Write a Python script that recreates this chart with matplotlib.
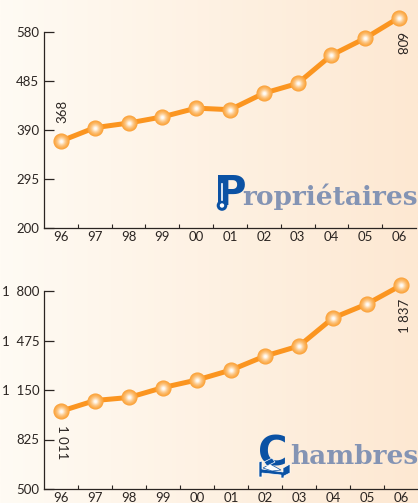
import numpy as np
import matplotlib
matplotlib.use('Agg')
import matplotlib.pyplot as plt
from matplotlib.patches import Circle, Polygon

W, H = 418, 503

years = ['96', '97', '98', '99', '00', '01', '02', '03', '04', '05', '06']
proprietaires = [368, 394, 403, 415, 432, 429, 461, 480, 535, 568, 608]
chambres = [1011, 1081, 1101, 1166, 1216, 1281, 1373, 1439, 1623, 1715, 1837]
ticks_top = [200, 295, 390, 485, 580]
ticks_top_labels = ['200', '295', '390', '485', '580']
ticks_bot = [500, 825, 1150, 1475, 1800]
ticks_bot_labels = ['500', '825', '1  150', '1  475', '1  800']

plt.rcParams['font.family'] = ['Lato', 'DejaVu Sans']
INK = '#2b2522'
LINE = '#fb9520'
BLUE = '#0b52a4'
GREY = '#8494b4'


def px(x, y):
    # pixel position of the reference -> figure fraction
    return x / W, 1 - y / H


fig = plt.figure(figsize=(W / 100, H / 100), dpi=100)

# background gradient
bg = fig.add_axes([0, 0, 1, 1], zorder=0)
grad = np.linspace(0, 1, 256).reshape(1, -1, 1)
c0 = np.array([255, 251, 244]) / 255
c1 = np.array([253, 232, 210]) / 255
bg.imshow(c0 + (c1 - c0) * grad, aspect='auto', extent=[0, W, H, 0])
bg.set_xlim(0, W)
bg.set_ylim(H, 0)
bg.axis('off')


def panel(left, right, top, bottom, values, ticks, labels, ylim):
    ax = fig.add_axes([left / W, 1 - bottom / H, (right - left) / W, (bottom - top) / H], zorder=2)
    ax.patch.set_visible(False)
    x = np.arange(len(years))
    ax.plot(x, values, color=LINE, lw=3.6, clip_on=False, zorder=3, solid_joinstyle='round')
    # shaded balls: stacked discs going from orange to nearly white
    sizes = [12, 11, 10, 9, 8, 7, 6, 5, 4, 3, 2]
    cols = ['#fba33c', '#fba845', '#fbae50', '#fcb55f', '#fcbc6e', '#fdc480',
            '#fdce94', '#fed9ab', '#fee5c4', '#fff0de', '#fffbf5']
    for s, c in zip(sizes, cols):
        ax.plot(x, values, ls='none', marker='o', ms=s * 0.97, mfc=c, mec='none',
                clip_on=False, zorder=4)
    ax.set_xlim(-0.5, len(years) - 0.5)
    ax.set_ylim(*ylim)
    ax.set_xticks(x)
    ax.set_xticklabels(years)
    ax.set_xticks(x[:-1] + 0.5, minor=True)
    ax.set_yticks(ticks)
    ax.set_yticklabels(labels)
    ax.tick_params(axis='x', which='major', length=0, pad=2.5, labelsize=9.5, labelcolor=INK)
    ax.tick_params(axis='x', which='minor', direction='in', length=3.2, width=0.8, color=INK)
    ax.tick_params(axis='y', direction='in', length=7, width=0.9, color=INK, pad=3.5,
                   labelsize=9.5, labelcolor=INK)
    for s in ['top', 'right']:
        ax.spines[s].set_visible(False)
    for s in ['left', 'bottom']:
        ax.spines[s].set_color(INK)
        ax.spines[s].set_linewidth(0.9)
    return ax


ax1 = panel(44, 416, 32, 227.5, proprietaires, ticks_top, ticks_top_labels, (200, 580))
ax2 = panel(44, 418, 291, 489, chambres, ticks_bot, ticks_bot_labels, (500, 1800))

# value labels on the first and last points
lab = dict(textcoords='offset points', ha='center', va='center', fontsize=9.5, color=INK,
           zorder=5, annotation_clip=False)
ax1.annotate('368', (0, proprietaires[0]), xytext=(1, 21), rotation=90, **lab)
ax1.annotate('608', (10, proprietaires[-1]), xytext=(1, -19), rotation=270, **lab)
ax2.annotate('1 011', (0, chambres[0]), xytext=(0.5, -22), rotation=270, **lab)
ax2.annotate('1 837', (10, chambres[-1]), xytext=(3, -22), rotation=90, **lab)

# titles with their big blue initial
initial = dict(fontweight='bold', family='DejaVu Sans', fontsize=29, color=BLUE,
               ha='left', va='baseline', zorder=6)
rest = dict(fontweight='bold', family='DejaVu Serif', fontsize=19, color=GREY,
            ha='right', va='baseline', zorder=6)
fig.text(*px(216, 205), 'P', **initial)
fig.text(*px(418, 205), 'ropriétaires', **rest)
fig.text(*px(258, 465), 'C', **initial)
fig.text(*px(418, 464), 'hambres', **rest)

# thermometer icon on the P
over = fig.add_axes([0, 0, 1, 1], zorder=7)
over.set_xlim(0, W)
over.set_ylim(H, 0)
over.axis('off')
over.add_patch(Polygon([(218, 175), (227, 175), (227, 205), (218, 205)], fc=BLUE, ec='none'))
over.plot([222, 222], [184, 200], color='white', lw=1.2)
over.add_patch(Circle((222, 205.5), 5.3, fc=BLUE, ec='none'))
over.add_patch(Circle((222, 205.5), 2.2, fc='white', ec='none'))

# bed icon under the C
over.add_patch(Polygon([(259, 477), (259, 462), (262, 461), (262, 469), (283, 472),
                        (283, 468), (290, 464), (290, 473), (284, 476), (284, 478),
                        (281, 478), (281, 475), (262, 473), (262, 477)],
                       fc=BLUE, ec='white', lw=0.5))
over.add_patch(Polygon([(263, 468), (270, 464), (281, 470), (272, 471)], fc='white', ec=BLUE, lw=0.5))
over.add_patch(Polygon([(264, 462), (272, 458), (275, 462), (267, 466)], fc=BLUE, ec='white', lw=0.5))

fig.savefig('out.png', dpi=100)
